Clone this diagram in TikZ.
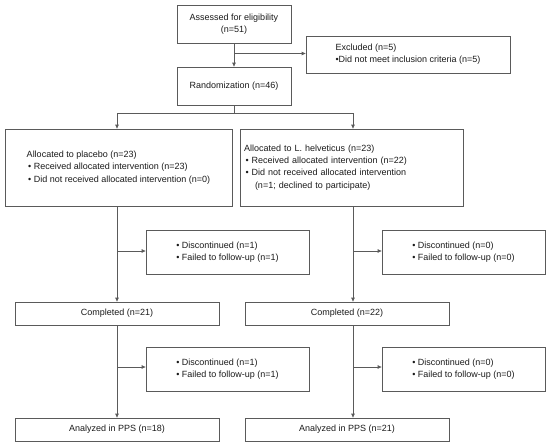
\documentclass[tikz,border=0pt]{standalone}
\usepackage{fontspec}
\setmainfont{Liberation Sans}
\usetikzlibrary{arrows.meta}
\definecolor{linegray}{HTML}{5A5A5A}
\definecolor{txt}{HTML}{1A1A1A}
\tikzset{
  box/.style={draw=linegray, line width=0.7pt, rectangle, inner sep=0pt,
    font=\fontsize{9}{12.3}\selectfont, text=txt, align=left},
  conn/.style={draw=linegray, line width=0.7pt},
  arr/.style={conn, -{Triangle[length=4pt,width=3.4pt]}}
}
\begin{document}
\begin{tikzpicture}[x=1pt,y=-1pt]
\useasboundingbox (0,0) rectangle (550,442);
\node[box, minimum width=114pt, minimum height=38pt, align=center] (elig) at (234,24) {Assessed for eligibility\\(n=51)};
\node[box, minimum width=204pt, minimum height=37pt] (excl) at (408,54.5) {Excluded (n=5)\\•Did not meet inclusion criteria (n=5)};
\node[box, minimum width=114pt, minimum height=38pt] (rand) at (234,86) {Randomization (n=46)};
\node[box, minimum width=227pt, minimum height=77pt] (allocL) at (118.5,167.5) {Allocated to placebo (n=23)\\\,• Received allocated intervention (n=23)\\\,• Did not received allocated intervention (n=0)};
\node[box, minimum width=223pt, minimum height=77pt, text width=215pt] (allocR) at (351.5,167.5) {Allocated to L. helveticus (n=23)\\\,• Received allocated intervention (n=22)\\\,• Did not received allocated intervention\\\hspace*{11pt}(n=1; declined to participate)};
\node[box, minimum width=163pt, minimum height=44pt] (d1L) at (227.5,252.5) {• Discontinued (n=1)\\• Failed to follow-up (n=1)};
\node[box, minimum width=163pt, minimum height=44pt] (d1R) at (463.5,252.5) {• Discontinued (n=0)\\• Failed to follow-up (n=0)};
\node[box, minimum width=204pt, minimum height=23pt] (cL) at (117,313.5) {Completed (n=21)};
\node[box, minimum width=204pt, minimum height=23pt] (cR) at (347,313.5) {Completed (n=22)};
\node[box, minimum width=163pt, minimum height=44pt] (d2L) at (227.5,369) {• Discontinued (n=1)\\• Failed to follow-up (n=1)};
\node[box, minimum width=163pt, minimum height=44pt] (d2R) at (463.5,369) {• Discontinued (n=0)\\• Failed to follow-up (n=0)};
\node[box, minimum width=204pt, minimum height=23pt] (aL) at (117,429.5) {Analyzed in PPS (n=18)};
\node[box, minimum width=204pt, minimum height=23pt] (aR) at (347,429.5) {Analyzed in PPS (n=21)};
% coordinates
\coordinate (b0) at (234,53.5);
\coordinate (sp) at (234,113);
\coordinate (spL) at (117,113);
\coordinate (spR) at (353,113);
\coordinate (b1L) at (117,251);
\coordinate (b1R) at (353,251);
\coordinate (b2L) at (117,367);
\coordinate (b2R) at (353,367);
% connectors
\draw[arr] (elig.south) -- (rand.north);
\draw[arr] (b0) -- (excl.west |- b0);
\draw[conn] (rand.south) -- (sp);
\draw[conn] (spL) -- (spR);
\draw[arr] (spL) -- (spL |- allocL.north);
\draw[arr] (spR) -- (spR |- allocR.north);
\draw[arr] (spL |- allocL.south) -- (spL |- cL.north);
\draw[arr] (spR |- allocR.south) -- (spR |- cR.north);
\draw[arr] (b1L) -- (d1L.west |- b1L);
\draw[arr] (b1R) -- (d1R.west |- b1R);
\draw[arr] (spL |- cL.south) -- (spL |- aL.north);
\draw[arr] (spR |- cR.south) -- (spR |- aR.north);
\draw[arr] (b2L) -- (d2L.west |- b2L);
\draw[arr] (b2R) -- (d2R.west |- b2R);
\end{tikzpicture}
\end{document}
